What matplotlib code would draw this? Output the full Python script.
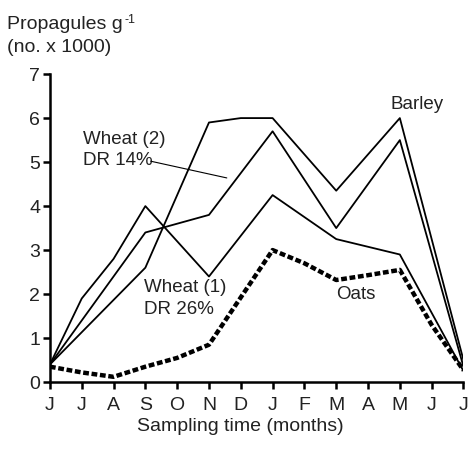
import matplotlib.pyplot as plt

plt.rcParams['font.family'] = ['Liberation Sans', 'DejaVu Sans']

months = ['J', 'J', 'A', 'S', 'O', 'N', 'D', 'J', 'F', 'M', 'A', 'M', 'J', 'J']

# sampling points (month index) and counts for each crop
barley_x = [0, 3, 5, 6, 7, 9, 11, 13]
barley_y = [0.4, 2.6, 5.9, 6.0, 6.0, 4.35, 6.0, 0.5]

wheat2_x = [0, 3, 4, 5, 7, 9, 11, 13]
wheat2_y = [0.4, 3.4, 3.6, 3.8, 5.7, 3.5, 5.5, 0.35]

wheat1_x = [0, 1, 2, 3, 5, 7, 9, 11, 13]
wheat1_y = [0.4, 1.9, 2.8, 4.0, 2.4, 4.25, 3.25, 2.9, 0.25]

oats_x = [0, 1, 2, 3, 4, 5, 7, 8, 9, 10, 11, 12, 13]
oats_y = [0.35, 0.22, 0.12, 0.35, 0.55, 0.85, 3.0, 2.7, 2.32, 2.43, 2.55, 1.3, 0.27]

fig = plt.figure(figsize=(4.71, 4.49), dpi=100)
ax = fig.add_axes([0.106, 0.149, 0.878, 0.686])

ax.plot(barley_x, barley_y, color='black', lw=1.3)
ax.plot(wheat2_x, wheat2_y, color='black', lw=1.3)
ax.plot(wheat1_x, wheat1_y, color='black', lw=1.3)
ax.plot(oats_x, oats_y, color='black', lw=3.2, dashes=(1.3, 0.6))

ax.set_xlim(0, 13)
ax.set_ylim(0, 7)
ax.set_xticks(range(len(months)))
ax.set_xticklabels(months)
ax.set_yticks(range(8))
for s in ['top', 'right']:
    ax.spines[s].set_visible(False)
for s in ['left', 'bottom']:
    ax.spines[s].set_linewidth(1.8)
ax.tick_params(direction='out', length=5, width=1.8, labelsize=14, colors='black')
ax.tick_params(axis='x', pad=6)
ax.tick_params(axis='y', pad=2)
for lab in ax.get_xticklabels() + ax.get_yticklabels():
    lab.set_color('#222222')

ax.set_xlabel('Sampling time (months)', fontsize=14, color='#222222', labelpad=2)
ax.xaxis.set_label_coords(0.46, -0.115)

ylab = fig.text(0.015, 0.945, 'Propagules g', fontsize=14, color='#222222',
                ha='left', va='center')
ax.annotate('-1', xy=(1, 0.8), xycoords=ylab, xytext=(1, 0), textcoords='offset points',
            fontsize=9, color='#222222', ha='left', va='center', annotation_clip=False)
fig.text(0.015, 0.895, '(no. x 1000)', fontsize=14, color='#222222',
         ha='left', va='center')

ax.text(11.55, 6.12, 'Barley', fontsize=13.5, color='#222222', ha='center', va='bottom')
ax.text(1.03, 5.27, 'Wheat (2)\nDR 14%', fontsize=13.5, color='#222222',
        ha='left', va='center', linespacing=1.35)
ax.annotate('', xy=(5.56, 4.64), xytext=(3.17, 5.02),
            arrowprops=dict(arrowstyle='-', color='black', lw=0.8,
                            shrinkA=0, shrinkB=0))
ax.text(2.95, 1.9, 'Wheat (1)\nDR 26%', fontsize=13.5, color='#222222',
        ha='left', va='center', linespacing=1.35)
ax.text(9.63, 1.98, 'Oats', fontsize=13.5, color='#222222', ha='center', va='center')

fig.savefig('out.png', dpi=100)
